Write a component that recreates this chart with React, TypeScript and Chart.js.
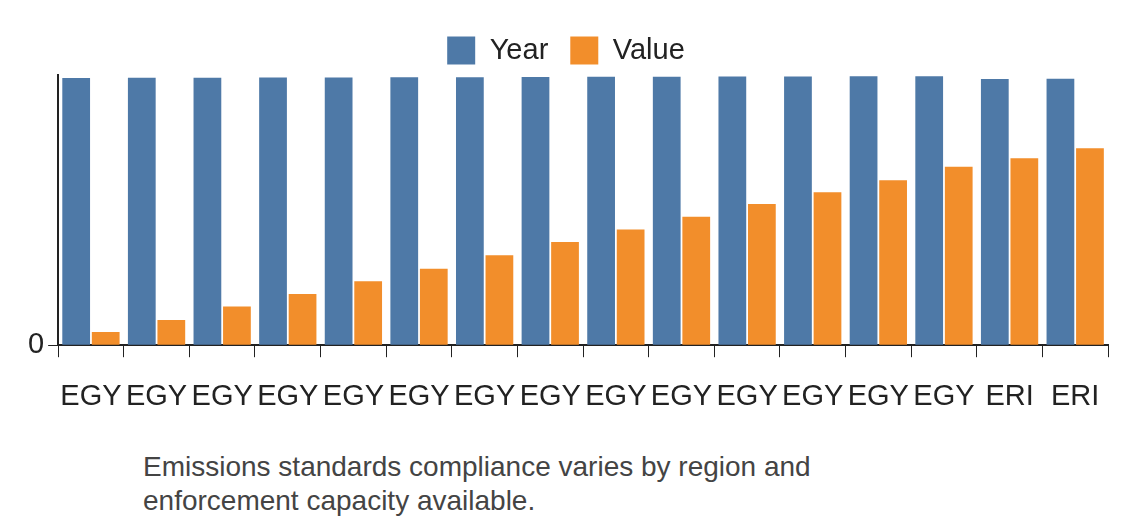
import React, { useEffect, useRef } from "react";
import { Chart, registerables } from "chart.js";
Chart.register(...registerables);

const categories = ["EGY","EGY","EGY","EGY","EGY","EGY","EGY","EGY","EGY","EGY","EGY","EGY","EGY","EGY","ERI","ERI"];
const years = [2008,2009,2010,2011,2012,2013,2014,2015,2016,2017,2018,2019,2020,2021,2000,2001];
const values = [100,190,290,385,480,575,675,775,870,965,1060,1150,1240,1340,1405,1480];
const caption = ["Emissions standards compliance varies by region and", "enforcement capacity available."];

export default function App() {
  const ref = useRef<HTMLCanvasElement>(null);
  useEffect(() => {
    const font = { family: "'Liberation Sans', Arial, sans-serif", size: 29 };
    const chart = new Chart(ref.current!, {
      type: "bar",
      data: {
        labels: categories,
        datasets: [
          { label: "Year", data: years, backgroundColor: "#4e79a7" },
          { label: "Value", data: values, backgroundColor: "#f28e2b" },
        ],
      },
      options: {
        animation: false,
        responsive: false,
        maintainAspectRatio: false,
        layout: { padding: { left: 16, right: 24, top: 6, bottom: 0 } },
        datasets: { bar: { categoryPercentage: 0.9, barPercentage: 0.94 } },
        plugins: {
          legend: {
            labels: { font, color: "#222", boxWidth: 28, boxHeight: 28, padding: 22 },
          },
          tooltip: { enabled: false },
        },
        scales: {
          x: {
            grid: { display: true, drawOnChartArea: false, drawTicks: true, tickLength: 12, color: "#222", offset: true },
            border: { color: "#222", width: 2 },
            ticks: { font, color: "#222", autoSkip: false, maxRotation: 0, minRotation: 0, padding: 22 },
          },
          y: {
            min: 0, max: 2030,
            afterBuildTicks: (axis: any) => { axis.ticks = axis.ticks.filter((t: any) => t.value % 500 === 0); },
            grid: { display: true, drawOnChartArea: false, drawTicks: true, tickLength: 10, color: "#222" },
            border: { color: "#222", width: 2 },
            ticks: { font, color: "#222", stepSize: 500, padding: 4 },
          },
        },
      },
    });
    return () => chart.destroy();
  }, []);
  return (
    <div>
      <canvas ref={ref} width={1124} height={428} style={{ display: "block" }} />
      <div style={{ fontFamily: "'Liberation Sans', Arial, sans-serif", fontSize: 28, color: "#444", marginLeft: 135, lineHeight: "34px", marginTop: 14 }}>
        {caption.map((c, i) => <div key={i}>{c}</div>)}
      </div>
    </div>
  );
}
